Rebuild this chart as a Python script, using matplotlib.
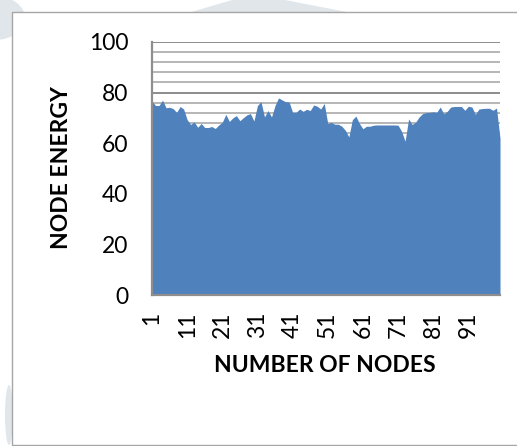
import matplotlib
matplotlib.use("Agg")
import matplotlib.pyplot as plt
from matplotlib.patches import Rectangle, Polygon, Ellipse
import numpy as np

# ---- data ----
nodes = list(range(1, 101))
energy = [
    76.6, 74.9, 74.9, 77.0, 74.0, 74.2, 73.7, 72.2, 74.5, 73.5,
    69.3, 67.4, 68.4, 66.3, 67.8, 66.2, 66.2, 66.6, 65.8, 67.2,
    68.3, 71.4, 68.6, 70.0, 70.9, 68.9, 70.1, 71.2, 71.7, 68.8,
    74.9, 76.4, 70.4, 72.9, 70.4, 74.9, 77.9, 77.1, 76.4, 76.3,
    72.2, 72.2, 73.5, 72.6, 73.4, 72.9, 75.1, 74.6, 73.5, 75.7,
    67.8, 68.2, 67.5, 67.5, 66.7, 65.1, 62.5, 69.3, 70.7, 67.8,
    65.7, 66.7, 66.7, 67.1, 67.2, 67.2, 67.2, 67.2, 67.2, 67.2,
    67.1, 64.7, 60.8, 69.6, 67.4, 68.3, 70.4, 71.7, 72.1, 72.2,
    72.4, 72.2, 74.3, 71.6, 72.6, 74.3, 74.5, 74.5, 74.5, 73.0,
    74.6, 74.3, 71.4, 73.5, 73.7, 73.8, 73.8, 73.0, 73.9, 62.0,
]
xtick_vals = [1, 11, 21, 31, 41, 51, 61, 71, 81, 91]
ytick_vals = [0, 20, 40, 60, 80, 100]
xlabel = "NUMBER OF NODES"
ylabel = "NODE ENERGY"

W, H = 517, 446
fig = plt.figure(figsize=(W / 100, H / 100), dpi=100)
fig.patch.set_facecolor("white")

def fx(px):
    return px / W

def fy(py):
    return 1 - py / H

# faint watermark shapes outside the chart border
wm = "#e1e6eb"
fig.patches.append(Polygon([(fx(188), fy(13)), (fx(232), fy(0)), (fx(285), fy(0)), (fx(352), fy(13))],
                           closed=True, transform=fig.transFigure, facecolor=wm, edgecolor="none", zorder=0))
fig.patches.append(Ellipse((fx(-5), fy(18)), fx(60), 44 / H, transform=fig.transFigure,
                           facecolor=wm, edgecolor="none", zorder=0))
fig.patches.append(Ellipse((fx(9), fy(415)), fx(8), 60 / H, transform=fig.transFigure,
                           facecolor=wm, edgecolor="none", zorder=0))

# chart area border
fig.patches.append(Rectangle((fx(12), fy(445)), fx(600), (445 - 12) / H, transform=fig.transFigure,
                             facecolor="white", edgecolor="#a6a6a6", linewidth=1.0, zorder=1))

ax = fig.add_axes([fx(152), fy(295), fx(500 - 152), (295 - 42) / H])
ax.set_zorder(2)
ax.patch.set_alpha(0)

ax.fill_between(nodes, energy, 0, color="#4F81BD", linewidth=0, zorder=3)

ax.set_xlim(1, 100)
ax.set_ylim(0, 100)

# gridlines every 4 units, major ones darker
for v in range(0, 101, 4):
    if v == 0:
        continue
    ax.axhline(v, color="#a9a9a9", linewidth=1.2, zorder=1)
for v in ytick_vals[1:]:
    ax.axhline(v, color="#8e8e8e", linewidth=1.4, zorder=1.5)

tick_font = dict(family="Lato", size=16.5)
ax.set_yticks(ytick_vals)
ax.set_yticklabels([str(v) for v in ytick_vals], fontdict=tick_font)
ax.set_xticks(xtick_vals)
ax.set_xticklabels([str(v) for v in xtick_vals], fontdict=tick_font, rotation=90)
ax.tick_params(axis="y", length=0, pad=17)
ax.tick_params(axis="x", length=0, pad=12)

for s in ["top", "right"]:
    ax.spines[s].set_visible(False)
for s in ["left", "bottom"]:
    ax.spines[s].set_color("#8e8e8e")
    ax.spines[s].set_linewidth(1.6)
    ax.spines[s].set_zorder(4)

fig.text(fx(325), fy(365), xlabel, ha="center", va="center",
         fontsize=16.5, fontweight="bold", family="Lato")
fig.text(fx(62), fy(168), ylabel, ha="center", va="center", rotation=90,
         fontsize=16.5, fontweight="bold", family="Lato")

fig.savefig("out.png", dpi=100)
